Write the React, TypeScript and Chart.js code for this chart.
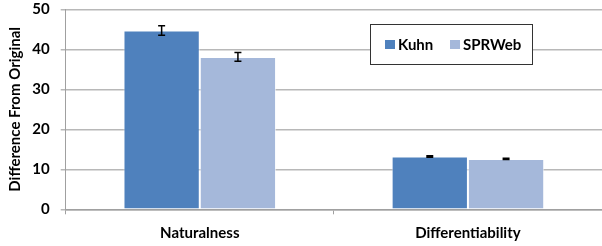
import React, { useEffect, useRef } from "react";
import { Chart, registerables } from "chart.js";
Chart.register(...registerables);

const categories = ["Naturalness", "Differentiability"];
const seriesNames = ["Kuhn", "SPRWeb"];
const kuhnValues = [44.7, 13.2];
const kuhnErrors = [1.2, 0.2];
const sprwebValues = [38.1, 12.6];
const sprwebErrors = [1.1, 0.15];
const yMin = 0;
const yMax = 50;
const yStep = 10;
const yTitle = "Difference From Original";
const seriesColors = ["#4F81BD", "#A5B8DA"];

const FONT = "Lato, 'Open Sans', sans-serif";

const errorBarPlugin = {
  id: "errorBars",
  afterDatasetsDraw(chart: any) {
    const ctx = chart.ctx;
    const yScale = chart.scales.y;
    const errs = [kuhnErrors, sprwebErrors];
    const vals = [kuhnValues, sprwebValues];
    ctx.save();
    ctx.strokeStyle = "#000";
    ctx.lineWidth = 1.5;
    chart.data.datasets.forEach((_: any, i: number) => {
      const meta = chart.getDatasetMeta(i);
      meta.data.forEach((bar: any, j: number) => {
        const v = vals[i][j];
        const e = errs[i][j];
        const yTop = yScale.getPixelForValue(v + e);
        const yBot = yScale.getPixelForValue(v - e);
        const x = bar.x;
        ctx.beginPath();
        ctx.moveTo(x, yTop);
        ctx.lineTo(x, yBot);
        ctx.moveTo(x - 3.5, yTop);
        ctx.lineTo(x + 3.5, yTop);
        ctx.moveTo(x - 3.5, yBot);
        ctx.lineTo(x + 3.5, yBot);
        ctx.stroke();
      });
    });
    ctx.restore();
  },
};

const legendPlugin = {
  id: "boxLegend",
  afterDraw(chart: any) {
    const ctx = chart.ctx;
    const bx = 370, by = 24, bw = 162, bh = 40;
    ctx.save();
    ctx.fillStyle = "#fff";
    ctx.fillRect(bx, by, bw, bh);
    ctx.strokeStyle = "#333";
    ctx.lineWidth = 1;
    ctx.strokeRect(bx + 0.5, by + 0.5, bw, bh);
    ctx.font = `bold 15px ${FONT}`;
    ctx.textBaseline = "middle";
    ctx.fillStyle = "#000";
    const cy = by + bh / 2 + 0.5;
    const items = [
      { x: 385, tx: 398 },
      { x: 450, tx: 463 },
    ];
    seriesNames.forEach((name, i) => {
      ctx.fillStyle = seriesColors[i];
      ctx.fillRect(items[i].x, cy - 4.5, 10, 9);
      ctx.fillStyle = "#000";
      ctx.fillText(name, items[i].tx, cy + 1);
    });
    ctx.restore();
  },
};

export default function App() {
  const ref = useRef<HTMLCanvasElement>(null);
  useEffect(() => {
    if (!ref.current) return;
    const chart = new Chart(ref.current, {
      type: "bar",
      data: {
        labels: categories,
        datasets: [
          {
            label: seriesNames[0],
            data: kuhnValues,
            backgroundColor: seriesColors[0],
            borderColor: "rgba(255,255,255,0.6)",
            borderWidth: 1,
            categoryPercentage: 0.569,
            barPercentage: 1,
          },
          {
            label: seriesNames[1],
            data: sprwebValues,
            backgroundColor: seriesColors[1],
            borderColor: "rgba(255,255,255,0.6)",
            borderWidth: 1,
            categoryPercentage: 0.569,
            barPercentage: 1,
          },
        ],
      },
      options: {
        responsive: false,
        animation: false,
        layout: { padding: { top: 9.3, right: -8, left: 0.7, bottom: 0 } },
        plugins: {
          legend: { display: false },
          tooltip: { enabled: false },
        },
        scales: {
          x: {
            grid: {
              drawOnChartArea: false,
              offset: true,
              color: "#a0a0a0",
              tickLength: 5,
              lineWidth: 1,
            },
            border: { color: "#a0a0a0", width: 1.5 },
            ticks: {
              font: { family: FONT, size: 15, weight: "bold" },
              color: "#000",
              padding: 10,
            },
            afterFit: (s: any) => {
              s.height = 36.7;
              s.paddingLeft = 0;
              s.paddingRight = 0;
            },
          },
          y: {
            min: yMin,
            max: yMax,
            ticks: {
              stepSize: yStep,
              font: { family: FONT, size: 15, weight: "bold" },
              color: "#000",
              padding: 11,
            },
            grid: { color: "#b8b8b8", lineWidth: 1.5, tickLength: 5 },
            border: { color: "#a0a0a0", width: 1 },
            title: {
              display: true,
              text: yTitle,
              font: { family: FONT, size: 15, weight: "bold" },
              color: "#000",
              padding: { top: 5, bottom: 0 },
            },
            afterFit: (s: any) => {
              s.width = 65;
              s.paddingTop = 0;
              s.paddingBottom = 0;
            },
          },
        },
      },
      plugins: [errorBarPlugin, legendPlugin],
    } as any);
    return () => chart.destroy();
  }, []);
  return (
    <canvas
      ref={ref}
      width={602}
      height={246}
      style={{ position: "absolute", left: 0, top: 0, width: 602, height: 246 }}
    />
  );
}
